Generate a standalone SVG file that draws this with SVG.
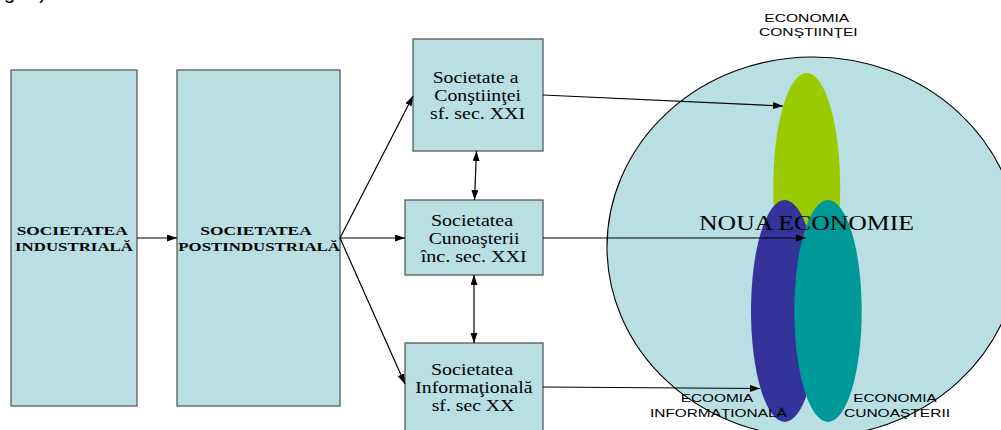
<svg xmlns="http://www.w3.org/2000/svg" width="1001" height="430" viewBox="0 0 1001 430">
<style>
.box{fill:#B9DFE3;stroke:#5A5A5A;stroke-width:1.3}
.t{font-family:"Liberation Serif","Times New Roman",serif;font-size:16px;fill:#000}
.tb{font-family:"Liberation Serif","Times New Roman",serif;font-size:12.5px;font-weight:bold;fill:#000}
.s{font-family:"Liberation Sans",Arial,sans-serif;font-size:11.5px;fill:#000}
.c{fill:none;stroke:#000;stroke-width:1.2}
</style>
<defs>
<marker id="ah" markerUnits="userSpaceOnUse" markerWidth="10" markerHeight="8" refX="10" refY="3.5" orient="auto-start-reverse">
<path d="M0,0 L10,3.5 L0,7 z" fill="#000"/>
</marker>
</defs>
<rect width="1001" height="430" fill="#fff"/>
<text x="4" y="-1" font-family="Liberation Sans,Arial,sans-serif" font-size="20" textLength="42">g.)</text>

<g id="n-industriala">
<rect class="box" x="11" y="70" width="126" height="336"/>
<text class="tb" x="16.7" y="235" textLength="111" lengthAdjust="spacingAndGlyphs">SOCIETATEA</text>
<text class="tb" x="15" y="250.7" textLength="118" lengthAdjust="spacingAndGlyphs">INDUSTRIALĂ</text>
</g>
<g id="n-postindustriala">
<rect class="box" x="177" y="70" width="163" height="336"/>
<text class="tb" x="200.3" y="235" textLength="111.4" lengthAdjust="spacingAndGlyphs">SOCIETATEA</text>
<text class="tb" x="178.3" y="250.7" textLength="161.7" lengthAdjust="spacingAndGlyphs">POSTINDUSTRIALĂ</text>
</g>
<g id="n-constiintei">
<rect class="box" x="413" y="39" width="130" height="112"/>
<text class="t" x="432.7" y="83" textLength="85.7" lengthAdjust="spacingAndGlyphs">Societate a</text>
<text class="t" x="434.3" y="101" textLength="86.7" lengthAdjust="spacingAndGlyphs">Conştiinţei</text>
<text class="t" x="430" y="119.3" textLength="95" lengthAdjust="spacingAndGlyphs">sf. sec. XXI</text>
</g>
<g id="n-cunoasterii">
<rect class="box" x="405" y="200" width="138" height="75"/>
<text class="t" x="431" y="225.7" textLength="82" lengthAdjust="spacingAndGlyphs">Societatea</text>
<text class="t" x="428.7" y="244" textLength="90.7" lengthAdjust="spacingAndGlyphs">Cunoaşterii</text>
<text class="t" x="420.7" y="262.3" textLength="106" lengthAdjust="spacingAndGlyphs">înc. sec. XXI</text>
</g>
<g id="n-informationala">
<rect class="box" x="405" y="343" width="138" height="100"/>
<text class="t" x="431" y="374.7" textLength="82" lengthAdjust="spacingAndGlyphs">Societatea</text>
<text class="t" x="415.3" y="393" textLength="117.3" lengthAdjust="spacingAndGlyphs">Informaţională</text>
<text class="t" x="431.7" y="411" textLength="82.6" lengthAdjust="spacingAndGlyphs">sf. sec XX</text>
</g>

<g id="n-noua-economie">
<ellipse cx="813" cy="247" rx="206" ry="190" fill="#B9DFE3" stroke="#000" stroke-width="1.1"/>
<ellipse cx="806.7" cy="188" rx="33.5" ry="115" fill="#99CC00"/>
<ellipse cx="784.7" cy="311" rx="33.7" ry="111" fill="#333399"/>
<ellipse cx="828" cy="311" rx="33.7" ry="111" fill="#009999"/>
<text x="699" y="230" font-family="Liberation Serif,'Times New Roman',serif" font-size="21" textLength="215" lengthAdjust="spacingAndGlyphs">NOUA ECONOMIE</text>
</g>
<g id="n-label-constiintei">
<text class="s" x="764.3" y="21.7" textLength="85" lengthAdjust="spacingAndGlyphs">ECONOMIA</text>
<text class="s" x="759" y="35.5" textLength="98.7" lengthAdjust="spacingAndGlyphs">CONŞTIINŢEI</text>
</g>
<g id="n-label-informationala">
<text class="s" x="680.7" y="402" textLength="72.6" lengthAdjust="spacingAndGlyphs">ECOOMIA</text>
<text class="s" x="650" y="416.7" textLength="136.7" lengthAdjust="spacingAndGlyphs">INFORMAŢIONALĂ</text>
</g>
<g id="n-label-cunoasterii">
<text class="s" x="853.3" y="402" textLength="83.4" lengthAdjust="spacingAndGlyphs">ECONOMIA</text>
<text class="s" x="844" y="416.7" textLength="106" lengthAdjust="spacingAndGlyphs">CUNOAŞTERII</text>
</g>

<g id="connectors">
<line class="c" x1="137" y1="238" x2="177" y2="238" marker-end="url(#ah)"/>
<line class="c" x1="340" y1="238" x2="413" y2="96" marker-end="url(#ah)"/>
<line class="c" x1="340" y1="238" x2="405" y2="238" marker-end="url(#ah)"/>
<line class="c" x1="340" y1="238" x2="405" y2="384" marker-end="url(#ah)"/>
<line class="c" x1="476.5" y1="151" x2="474.5" y2="200" marker-start="url(#ah)" marker-end="url(#ah)"/>
<line class="c" x1="474" y1="275" x2="474" y2="343" marker-start="url(#ah)" marker-end="url(#ah)"/>
<line class="c" x1="543" y1="95" x2="783" y2="106" marker-end="url(#ah)"/>
<line class="c" x1="543" y1="238" x2="806" y2="238" marker-end="url(#ah)"/>
<line class="c" x1="543" y1="387" x2="760" y2="388.5" marker-end="url(#ah)"/>
</g>
</svg>
